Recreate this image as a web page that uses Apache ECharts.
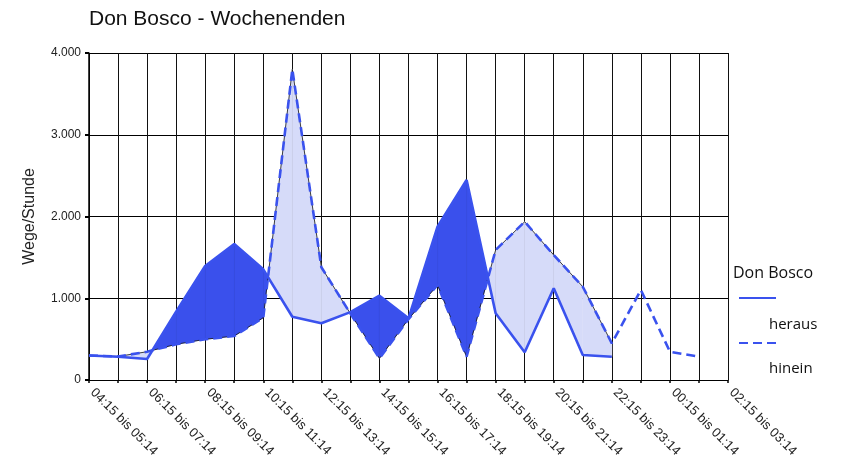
<!DOCTYPE html>
<html>
<head>
<meta charset="utf-8">
<script src="https://cdn.jsdelivr.net/npm/echarts@6/dist/echarts.min.js"></script>
<style>
  html, body { margin: 0; padding: 0; background: #fff; }
  #chart { width: 843px; height: 455px; }
</style>
</head>
<body>
<div id="chart"></div>
<script>
// Hourly time slots (weekend average), labelled every second slot
const categories = [
  '04:15 bis 05:14', '05:15 bis 06:14', '06:15 bis 07:14', '07:15 bis 08:14',
  '08:15 bis 09:14', '09:15 bis 10:14', '10:15 bis 11:14', '11:15 bis 12:14',
  '12:15 bis 13:14', '13:15 bis 14:14', '14:15 bis 15:14', '15:15 bis 16:14',
  '16:15 bis 17:14', '17:15 bis 18:14', '18:15 bis 19:14', '19:15 bis 20:14',
  '20:15 bis 21:14', '21:15 bis 22:14', '22:15 bis 23:14', '23:15 bis 00:14',
  '00:15 bis 01:14', '01:15 bis 02:14', '02:15 bis 03:14'
];

// Trips per hour leaving (heraus) and entering (hinein)
const heraus = [300, 285, 257, 835, 1394, 1664, 1354, 774, 694, 830, 1031, 755,
                1875, 2446, 816, 339, 1122, 306, 285];
const hinein = [300, 288, 346, 437, 498, 538, 762, 3800, 1379, 812, 265, 745,
                1162, 285, 1590, 1936, 1529, 1141, 449, 1101, 346, 285];

const yMin = 0, yMax = 4000, yStep = 1000;

const LINE_BLUE = '#3a52ee';
const DARK_FILL = '#3a50ec';
const LIGHT_FILL = '#d6dbf9';
const FONT = '"Liberation Sans", Arial, sans-serif';
const LEGEND_FONT = '"Open Sans", "Liberation Sans", sans-serif';

// Segments where both series have values: the band between them is filled
const bandSegments = [];
for (let i = 0; i + 1 < Math.min(heraus.length, hinein.length); i++) {
  bandSegments.push([i, heraus[i]]);
}

function renderBand(params, api) {
  const i = api.value(0);
  const a0 = api.coord([i, heraus[i]]);
  const a1 = api.coord([i + 1, heraus[i + 1]]);
  const b0 = api.coord([i, hinein[i]]);
  const b1 = api.coord([i + 1, hinein[i + 1]]);
  const d0 = heraus[i] - hinein[i];
  const d1 = heraus[i + 1] - hinein[i + 1];
  const fillFor = d => (d >= 0 ? DARK_FILL : LIGHT_FILL);
  const poly = (pts, d) => ({
    type: 'polygon',
    shape: { points: pts },
    style: { fill: fillFor(d), stroke: fillFor(d), lineWidth: 0.6 }
  });
  if (d0 * d1 < 0) {
    const t = d0 / (d0 - d1);
    const x = [a0[0] + t * (a1[0] - a0[0]), a0[1] + t * (a1[1] - a0[1])];
    return { type: 'group', children: [poly([a0, x, b0], d0), poly([x, a1, b1], d1)] };
  }
  return { type: 'group', children: [poly([a0, a1, b1, b0], d0 + d1)] };
}

// Thin dark outline of the band along the "hinein" edge
const outline = hinein.map((v, i) => (i < heraus.length ? v : null));

const fmtThousands = v => String(v).replace(/\B(?=(\d{3})+(?!\d))/g, '.');

// One legend block per series: line sample, name on the row below
const legendItem = (name, iconY, lh) => ({
  data: [name], left: 738, top: iconY - lh, padding: 0,
  orient: 'vertical', itemWidth: 37, itemHeight: 10,
  itemStyle: { color: 'rgba(0,0,0,0)', borderWidth: 0 },
  formatter: n => '\n' + n,
  textStyle: { fontFamily: LEGEND_FONT, fontSize: 15, lineHeight: lh, color: '#111', padding: [0, 0, 0, -12] }
});

const chart = echarts.init(document.getElementById('chart'), null, { renderer: 'canvas' });
chart.setOption({
  animation: false,
  backgroundColor: '#ffffff',
  title: [
    {
      text: 'Don Bosco - Wochenenden',
      left: 89, top: 9, padding: 0,
      textStyle: { fontFamily: FONT, fontSize: 21, fontWeight: 'normal', color: '#111' }
    },
    {
      text: 'Don Bosco',
      left: 733, top: 265, padding: 0,
      textStyle: { fontFamily: LEGEND_FONT, fontSize: 16, fontWeight: 'normal', color: '#111' }
    }
  ],
  legend: [
    legendItem('heraus', 298, 54),
    legendItem('hinein', 343, 52)
  ],
  grid: { left: 89, right: 115, top: 53, bottom: 75, containLabel: false, outerBoundsMode: 'none' },
  xAxis: {
    type: 'category',
    data: categories,
    boundaryGap: false,
    axisLine: { lineStyle: { color: '#000', width: 1 } },
    axisTick: { show: true, interval: 0, length: 3, lineStyle: { color: '#000', width: 1.5 } },
    axisLabel: {
      interval: 1, rotate: -45, margin: 7, padding: [0, 0, 0, 5],
      fontFamily: FONT, fontSize: 13, color: '#222'
    },
    splitLine: { show: true, interval: 0, lineStyle: { color: '#111', width: 1 } }
  },
  yAxis: {
    type: 'value',
    min: yMin, max: yMax, interval: yStep,
    name: 'Wege/Stunde',
    nameLocation: 'middle', nameRotate: 90, nameGap: 51,
    nameTextStyle: { fontFamily: FONT, fontSize: 16, color: '#222' },
    axisLine: { show: true, lineStyle: { color: '#000', width: 1.5 } },
    axisTick: { show: true, length: 4, lineStyle: { color: '#000', width: 2 } },
    axisLabel: { margin: 8, fontFamily: FONT, fontSize: 12, color: '#222', formatter: fmtThousands },
    splitLine: { show: true, lineStyle: { color: '#000', width: 1 } }
  },
  series: [
    {
      name: 'band',
      type: 'custom',
      renderItem: renderBand,
      data: bandSegments,
      encode: { x: 0, y: 1 },
      z: 1,
      silent: true
    },
    {
      name: 'outline',
      type: 'line',
      data: outline,
      symbol: 'none',
      lineStyle: { color: '#111', width: 0.8 },
      z: 2,
      silent: true
    },
    {
      name: 'heraus',
      type: 'line',
      data: heraus,
      symbol: 'none',
      color: LINE_BLUE,
      lineStyle: { color: LINE_BLUE, width: 2.6 },
      z: 3
    },
    {
      name: 'hinein',
      type: 'line',
      data: hinein,
      symbol: 'none',
      color: LINE_BLUE,
      lineStyle: { color: LINE_BLUE, width: 2.6, type: [9, 5] },
      z: 4
    }
  ]
});
</script>
</body>
</html>
